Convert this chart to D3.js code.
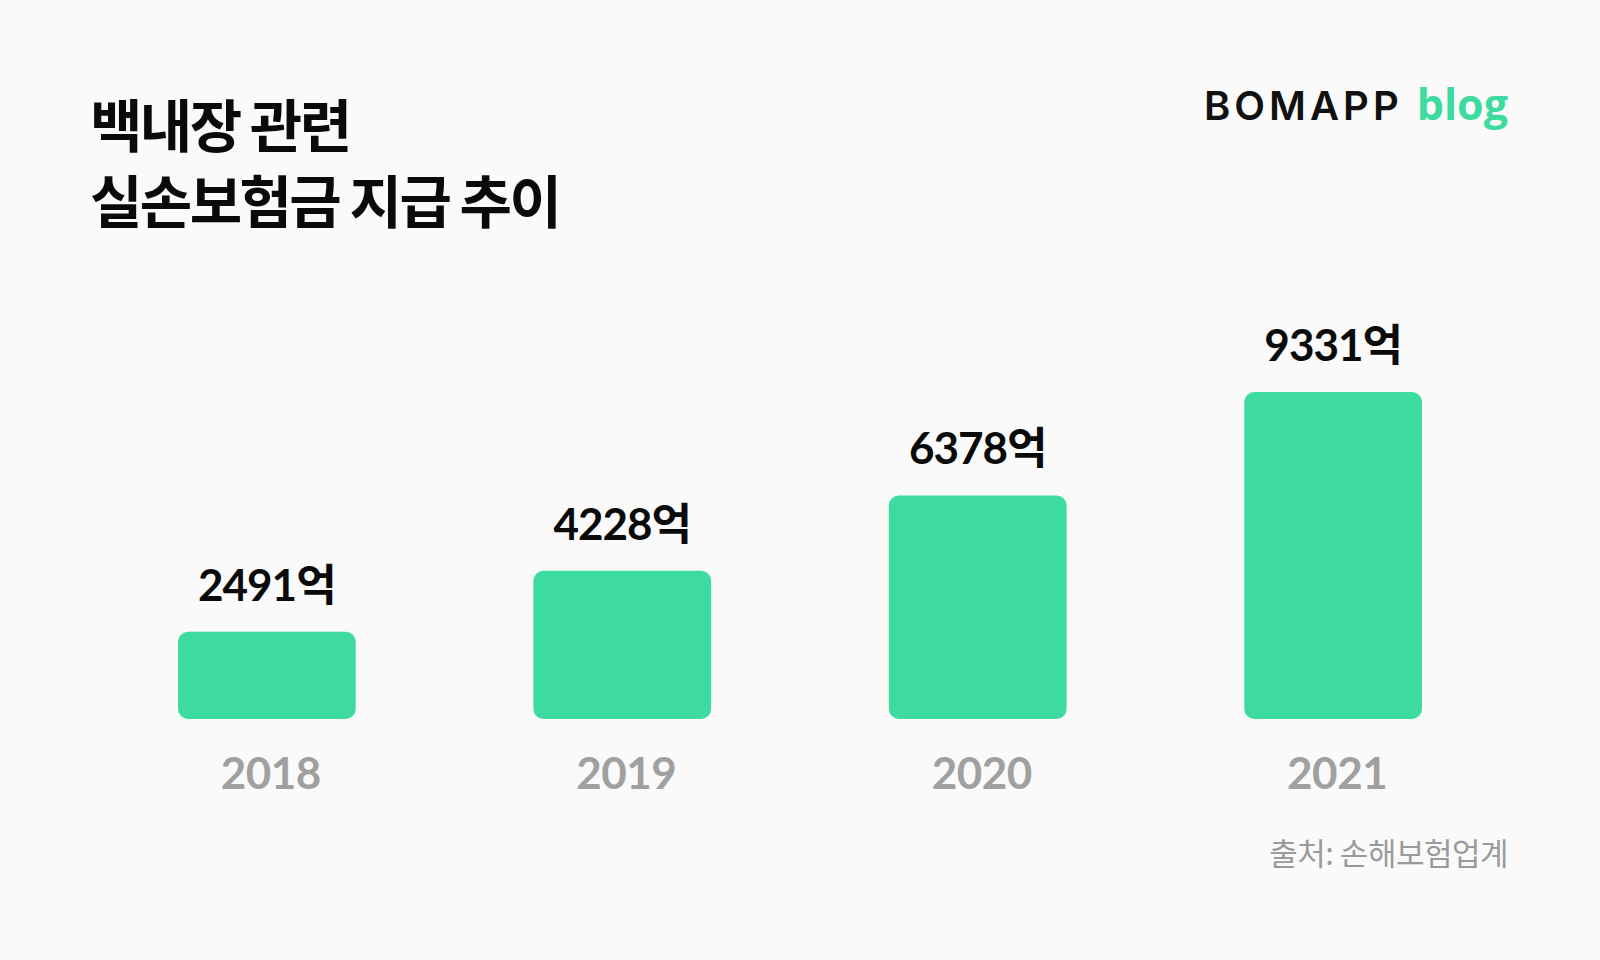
<!DOCTYPE html>
<html>
<head>
<meta charset="utf-8">
<script src="https://cdn.jsdelivr.net/npm/d3@7"></script>
<style>
  html, body { margin: 0; padding: 0; background: #fafafa; }
  svg { display: block; }
</style>
</head>
<body>
<svg id="chart" width="1600" height="960"></svg>
<script>
const years = ["2018", "2019", "2020", "2021"];
const values = [2491, 4228, 6378, 9331];
const valueUnit = "억";
const titleLines = ["백내장 관련", "실손보험금 지급 추이"];
const logoMain = "BOMAPP";
const logoSub = "blog";
const sourceText = "출처: 손해보험업계";

const W = 1600, H = 960;
const barColor = "#3ddba0";
const svg = d3.select("#chart");

svg.append("rect").attr("width", W).attr("height", H).attr("fill", "#fafafa");

const data = years.map((y, i) => ({ year: y, value: values[i] }));

const x = d3.scaleBand().domain(years).range([178, 1422]).paddingInner(0.5).paddingOuter(0);
const y = d3.scaleLinear().domain([0, 9331]).range([719, 392]);

// title
svg.append("g").selectAll("text").data(titleLines).join("text")
  .attr("x", 90)
  .attr("y", (d, i) => 147 + i * 76)
  .attr("font-family", "'Noto Sans CJK KR', 'Noto Sans', sans-serif")
  .attr("font-weight", 700)
  .attr("font-size", 57)
  .attr("letter-spacing", -2.6)
  .attr("fill", "#0a0a0a")
  .text(d => d);

// logo
const logo = svg.append("text")
  .attr("x", 1204).attr("y", 120)
  .attr("font-size", 40);
logo.append("tspan")
  .attr("font-family", "Inter, Roboto, sans-serif")
  .attr("font-weight", 600)
  .attr("fill", "#111")
  .attr("letter-spacing", 4)
  .text(logoMain);
logo.append("tspan")
  .attr("dx", 14)
  .attr("font-family", "'Open Sans', Roboto, sans-serif")
  .attr("font-weight", 700)
  .attr("fill", barColor)
  .attr("font-size", 43)
  .attr("letter-spacing", 0)
  .text(logoSub);

// bars
svg.append("g").selectAll("rect").data(data).join("rect")
  .attr("x", d => x(d.year))
  .attr("y", d => y(d.value))
  .attr("width", x.bandwidth())
  .attr("height", d => y(0) - y(d.value))
  .attr("rx", 10).attr("ry", 10)
  .attr("fill", barColor);

// value labels
svg.append("g").selectAll("text").data(data).join("text")
  .attr("x", d => x(d.year) + x.bandwidth() / 2)
  .attr("y", d => y(d.value) - 31)
  .attr("text-anchor", "middle")
  .attr("font-family", "Lato, 'Noto Sans CJK KR', sans-serif")
  .attr("font-weight", 700)
  .attr("font-size", 44)
  .attr("letter-spacing", -1)
  .attr("fill", "#0a0a0a")
  .text(d => d3.format("d")(d.value) + valueUnit);

// x axis labels (year)
const xAxis = d3.axisBottom(x).tickSize(0).tickPadding(0);
const gx = svg.append("g").attr("transform", "translate(0, 789)").call(xAxis);
gx.select(".domain").remove();
gx.selectAll("text")
  .attr("dy", 0).attr("y", 0).attr("dx", 4)
  .attr("font-family", "Lato, sans-serif")
  .attr("font-weight", 700)
  .attr("font-size", 44)
  .attr("letter-spacing", -0.5)
  .attr("fill", "#a0a0a0");

// source
svg.append("text")
  .attr("x", 1508).attr("y", 865)
  .attr("text-anchor", "end")
  .attr("font-family", "'Noto Sans CJK KR', sans-serif")
  .attr("font-weight", 400)
  .attr("font-size", 31)
  .attr("letter-spacing", -0.5)
  .attr("fill", "#9a9a9a")
  .text(sourceText);
</script>
</body>
</html>
